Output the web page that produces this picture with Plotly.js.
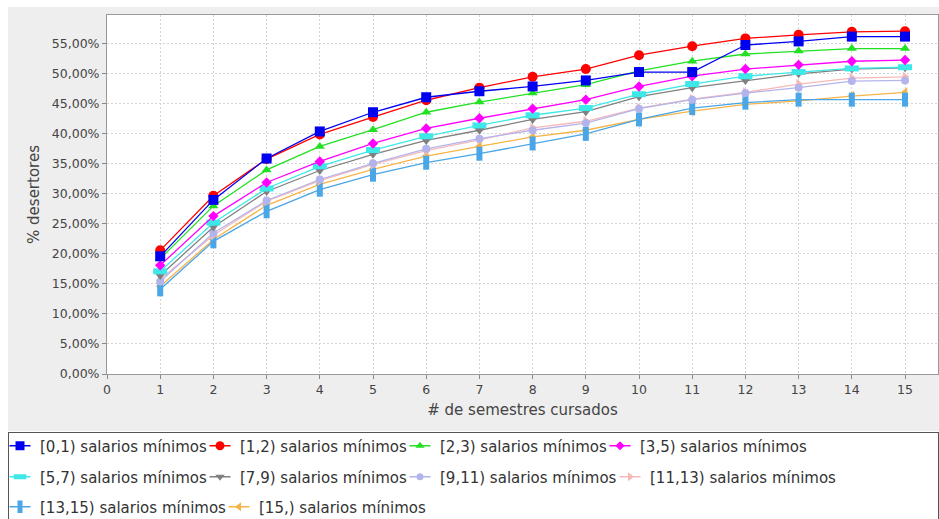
<!DOCTYPE html>
<html><head><meta charset="utf-8">
<script src="https://cdn.plot.ly/plotly-3.0.1.min.js"></script>
<style>
html,body{margin:0;padding:0;background:#fff;width:939px;height:519px;overflow:hidden;}
#panel{position:absolute;left:8px;top:7px;width:931px;height:424px;background:#eeeeee;}
#legbox{position:absolute;left:8px;top:432px;width:929px;height:100px;background:#fff;border:1px solid #555;}
#chart{position:absolute;left:0;top:0;width:939px;height:519px;}
</style></head><body>
<div id="panel"></div><div id="legbox"></div><div id="chart"></div>
<script>
// ---- data ----
const semestres = [1,2,3,4,5,6,7,8,9,10,11,12,13,14,15];
const xTickVals = [0,1,2,3,4,5,6,7,8,9,10,11,12,13,14,15];
const yTickVals = [0,0.05,0.10,0.15,0.20,0.25,0.30,0.35,0.40,0.45,0.50,0.55];

const nombres = [
  "[0,1) salarios mínimos", "[1,2) salarios mínimos", "[2,3) salarios mínimos", "[3,5) salarios mínimos",
  "[5,7) salarios mínimos", "[7,9) salarios mínimos", "[9,11) salarios mínimos", "[11,13) salarios mínimos",
  "[13,15) salarios mínimos", "[15,) salarios mínimos"
];
// % de desertores por semestre
const s_0_1   = [19.6,29.0,35.9,40.4,43.6,46.1,47.1,47.9,48.9,50.3,50.3,54.8,55.4,56.2,56.2];
const s_1_2   = [20.6,29.7,35.8,39.9,42.8,45.6,47.7,49.5,50.8,53.1,54.6,55.9,56.5,57.0,57.1];
const s_2_3   = [19.2,28.0,34.0,37.9,40.7,43.6,45.3,46.8,48.2,50.5,52.1,53.3,53.8,54.2,54.2];
const s_3_5   = [18.1,26.3,31.9,35.4,38.4,40.9,42.6,44.2,45.7,47.9,49.6,50.8,51.5,52.1,52.3];
const s_5_7   = [17.1,25.2,30.9,34.6,37.3,39.6,41.4,43.1,44.3,46.6,48.3,49.6,50.3,50.9,51.1];
const s_7_9   = [16.4,24.5,30.4,33.9,36.6,38.9,40.6,42.4,43.7,46.2,47.7,48.9,50.0,50.8,51.0];
const s_9_11  = [15.4,23.5,28.9,32.4,35.1,37.5,39.2,40.6,41.8,44.2,45.7,46.8,47.7,48.8,48.9];
const s_11_13 = [15.8,23.1,28.8,32.2,34.9,37.2,39.0,41.0,42.1,44.3,45.8,46.9,48.3,49.3,49.5];
const s_13_15 = [14.1,22.1,27.1,30.7,33.2,35.2,36.7,38.4,40.0,42.4,44.3,45.2,45.7,45.7,45.7];
const s_15    = [14.6,22.4,28.1,31.6,34.1,36.3,37.9,39.5,40.6,42.4,43.8,44.9,45.5,46.3,46.9];
const valores = [s_0_1,s_1_2,s_2_3,s_3_5,s_5_7,s_7_9,s_9_11,s_11_13,s_13_15,s_15];

// ---- styles ----
const colores = ["#0000f0","#ff0000","#22e022","#ff00ff","#3ee8e8","#808080","#b4b4ec","#f7b8b8","#4aa6e6","#f7b446"];
const simbolos = ["square","circle","triangle-up","diamond","line-ew","triangle-down","circle","triangle-right","line-ns","triangle-left"];
const tamanos = [10,10,9,8,10,9,8,9,10,9];
const bordes  = [0,0,0,0,6,0,0,0,6,0];
// legend text-start positions (px) and row centres
const legX = [40,240,440,640, 40,240,440,650, 40,259];
const legY = [446,446,446,446, 477,477,477,477, 507,507];

const W = 939, H = 519;
const FONT = "DejaVu Sans";
const traces = [];
const layout = {
  width: W, height: H,
  margin: {l:107, r:1, t:15, b:145, pad:0},
  paper_bgcolor: "rgba(0,0,0,0)",
  plot_bgcolor: "#ffffff",
  separators: ",.",
  showlegend: true,
  font: {family: FONT, size: 12.5, color: "#444"},
  xaxis: {
    range: [0, 15.62], tickvals: xTickVals, ticks: "outside", ticklen: 4, tickcolor: "#888",
    showline: true, linecolor: "#999", linewidth: 1, mirror: true,
    showgrid: true, gridcolor: "#d4d4d4", griddash: "2px,2px", gridwidth: 1,
    zeroline: false, tickfont: {family: FONT, size: 12.5, color: "#444"},
    title: {text: "# de semestres cursados", font: {family: FONT, size: 15, color: "#444"}, standoff: 8}
  },
  yaxis: {
    range: [0, 0.598], tickvals: yTickVals, tickformat: ".2%",
    ticks: "outside", ticklen: 4, tickcolor: "#888",
    showline: true, linecolor: "#999", linewidth: 1, mirror: true,
    showgrid: true, gridcolor: "#d4d4d4", griddash: "2px,2px", gridwidth: 1,
    zeroline: false, tickfont: {family: FONT, size: 12.5, color: "#444"},
    title: {text: "% desertores", font: {family: FONT, size: 15, color: "#444"}, standoff: 8}
  }
};

function legendBox(i, transparentText) {
  return {
    xref: "container", yref: "container",
    x: (legX[i] - 40) / W, y: 1 - legY[i] / H,
    xanchor: "left", yanchor: "middle", orientation: "h",
    bgcolor: "rgba(0,0,0,0)", borderwidth: 0,
    font: {family: FONT, size: 15, color: transparentText ? "rgba(0,0,0,0)" : "#333"}
  };
}

// series lines (drawn in reverse so the first series is on top)
for (let i = valores.length - 1; i >= 0; i--) {
  traces.push({
    type: "scatter", mode: "lines+markers", name: nombres[i], showlegend: false,
    x: semestres, y: valores[i].map(v => v / 100),
    line: {color: colores[i], width: 1.3},
    marker: {symbol: simbolos[i], size: tamanos[i], color: colores[i],
             line: {width: bordes[i], color: colores[i]}}
  });
}
// legend entries: short line stub + marker, each entry its own legend
for (let i = 0; i < valores.length; i++) {
  const lidA = "legend" + (2 * i + 2);
  const lidB = "legend" + (2 * i + 3);
  traces.push({
    type: "scatter", mode: "markers", name: nombres[i], legend: lidA,
    x: [null], y: [null],
    marker: {symbol: "line-ew", size: 15, color: colores[i], line: {width: 1.4, color: colores[i]}}
  });
  traces.push({
    type: "scatter", mode: "markers", name: nombres[i], legend: lidB,
    x: [null], y: [null],
    marker: {symbol: simbolos[i], size: tamanos[i] - 1, color: colores[i],
             line: {width: bordes[i] ? 5 : 0, color: colores[i]}}
  });
  layout[lidA] = legendBox(i, true);
  layout[lidB] = legendBox(i, false);
}
layout.legend = {visible: false};

Plotly.newPlot("chart", traces, layout, {displayModeBar: false, staticPlot: true});
</script></body></html>
